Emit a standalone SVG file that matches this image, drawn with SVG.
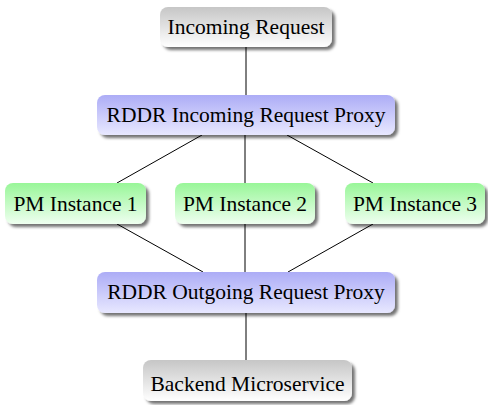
<svg xmlns="http://www.w3.org/2000/svg" width="488" height="405" viewBox="0 0 488 405">
<style>
text{font-family:"Liberation Serif","Times New Roman","DejaVu Serif",serif;font-size:21.5px;fill:#000;text-anchor:middle}
.c line{stroke:#000;stroke-width:1}
rect{filter:url(#sh)}
</style>
<defs>
<linearGradient id="gg" x1="0" y1="0" x2="0" y2="1"><stop offset="0" stop-color="#c6c6c6"/><stop offset="1" stop-color="#ffffff"/></linearGradient>
<linearGradient id="gb" x1="0" y1="0" x2="0" y2="1"><stop offset="0" stop-color="#acacf6"/><stop offset="1" stop-color="#e8e8ff"/></linearGradient>
<linearGradient id="gn" x1="0" y1="0" x2="0" y2="1"><stop offset="0" stop-color="#98f698"/><stop offset="1" stop-color="#effff0"/></linearGradient>
<filter id="sh" x="-10%" y="-20%" width="130%" height="160%"><feDropShadow dx="3" dy="3" stdDeviation="1.5" flood-color="#000" flood-opacity="0.55"/></filter>
</defs>
<g class="c" id="connectors">
<line x1="246" y1="47" x2="246" y2="95"/>
<line x1="202" y1="135" x2="117" y2="183"/>
<line x1="245" y1="135" x2="245" y2="183"/>
<line x1="287" y1="135" x2="373" y2="183"/>
<line x1="117" y1="224" x2="203" y2="272"/>
<line x1="245" y1="224" x2="245" y2="272"/>
<line x1="373" y1="224" x2="288" y2="272"/>
<line x1="246" y1="313" x2="246" y2="360"/>
</g>
<g id="incoming"><rect x="160" y="7" width="172" height="40" rx="8" fill="url(#gg)"/><text x="246" y="34">Incoming Request</text></g>
<g id="proxyIn"><rect x="97" y="95" width="298" height="40" rx="8" fill="url(#gb)"/><text x="246" y="122">RDDR Incoming Request Proxy</text></g>
<g id="pm1"><rect x="5" y="183" width="141" height="41" rx="8" fill="url(#gn)"/><text x="75.5" y="211">PM Instance 1</text></g>
<g id="pm2"><rect x="175" y="183" width="140" height="41" rx="8" fill="url(#gn)"/><text x="245" y="211">PM Instance 2</text></g>
<g id="pm3"><rect x="345" y="183" width="140" height="41" rx="8" fill="url(#gn)"/><text x="415" y="211">PM Instance 3</text></g>
<g id="proxyOut"><rect x="97" y="272" width="298" height="41" rx="8" fill="url(#gb)"/><text x="246" y="299">RDDR Outgoing Request Proxy</text></g>
<g id="backend"><rect x="143" y="360" width="209" height="41" rx="8" fill="url(#gg)"/><text x="247.5" y="391">Backend Microservice</text></g>
</svg>
